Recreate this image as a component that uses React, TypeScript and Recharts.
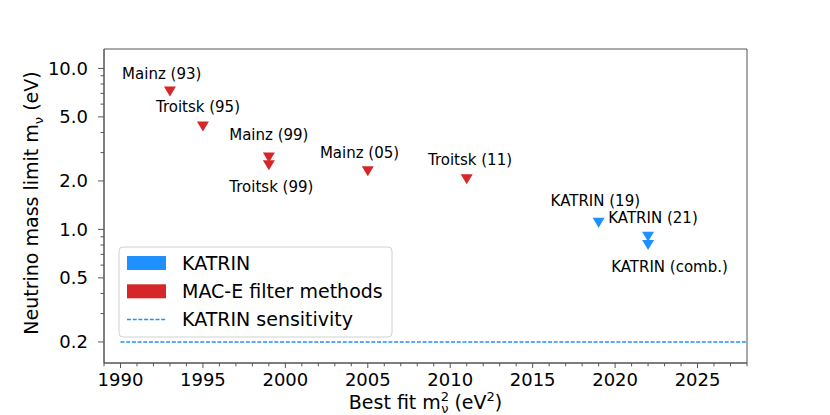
import React from "react"
import { ScatterChart, Scatter, XAxis, YAxis, ReferenceLine, ReferenceArea } from "recharts"

const FONT = "DejaVu Sans, Verdana, sans-serif"
const BLUE = "#1e90ff"
const RED = "#d62728"
const SPINE = "#555555"

// upper limits on the neutrino mass (eV), by year of result
const macE = [
  { name: "Mainz (93)", year: 1993, limit: 7.2 },
  { name: "Troitsk (95)", year: 1995, limit: 4.35 },
  { name: "Mainz (99)", year: 1999, limit: 2.8 },
  { name: "Troitsk (99)", year: 1999, limit: 2.5 },
  { name: "Mainz (05)", year: 2005, limit: 2.3 },
  { name: "Troitsk (11)", year: 2011, limit: 2.05 },
]

const katrin = [
  { name: "KATRIN (19)", year: 2019, limit: 1.1 },
  { name: "KATRIN (21)", year: 2022, limit: 0.9 },
  { name: "KATRIN (comb.)", year: 2022, limit: 0.8 },
]

// text annotations, placed in data coordinates (label centre)
const annotations = [
  { text: "Mainz (93)", year: 1992.5, limit: 9.2 },
  { text: "Troitsk (95)", year: 1994.7, limit: 5.77 },
  { text: "Mainz (99)", year: 1999.0, limit: 3.85 },
  { text: "Troitsk (99)", year: 1999.15, limit: 1.84 },
  { text: "Mainz (05)", year: 2004.5, limit: 3.01 },
  { text: "Troitsk (11)", year: 2011.2, limit: 2.69 },
  { text: "KATRIN (19)", year: 2018.8, limit: 1.5 },
  { text: "KATRIN (21)", year: 2022.3, limit: 1.18 },
  { text: "KATRIN (comb.)", year: 2023.3, limit: 0.586 },
]

const sensitivity = 0.2
const sensitivityStart = 1990

const xDomain = [1989, 2028]
const yDomain = [0.148, 13.2]

const xMajor = [1990, 1995, 2000, 2005, 2010, 2015, 2020, 2025]
const xTicks: number[] = []
for (let y = xDomain[0]; y <= xDomain[1]; y++) xTicks.push(y)

const yMajor = [0.2, 0.5, 1, 2, 5, 10]
const yMajorLabels = ["0.2", "0.5", "1.0", "2.0", "5.0", "10.0"]
const yMinor = [0.3, 0.4, 0.6, 0.7, 0.8, 0.9, 3, 4, 6, 7, 8, 9]
const yTicks = [...yMajor, ...yMinor].sort((a, b) => a - b)

const XTick = (props: any) => {
  const { x, y, payload } = props
  const major = xMajor.includes(payload.value)
  return (
    <g>
      <line x1={x} x2={x} y1={y} y2={y + (major ? 5 : 3.3)} stroke={SPINE} strokeWidth={1} />
      {major && (
        <text x={x} y={y + 17} dy="0.35em" textAnchor="middle" fontSize={18} fontFamily={FONT} fill="#000">
          {payload.value}
        </text>
      )}
    </g>
  )
}

const YTick = (props: any) => {
  const { x, y, payload } = props
  const idx = yMajor.findIndex((v) => Math.abs(v - payload.value) < 1e-9)
  const major = idx >= 0
  return (
    <g>
      <line x1={x - (major ? 6 : 3.5)} x2={x} y1={y} y2={y} stroke={SPINE} strokeWidth={1} />
      {major && (
        <text x={x - 16} y={y} dy="0.35em" textAnchor="end" fontSize={18} fontFamily={FONT} fill="#000">
          {yMajorLabels[idx]}
        </text>
      )}
    </g>
  )
}

const triangle = (color: string) => (props: any) => {
  const { cx, cy } = props
  const w = 6
  const h = 5
  return <polygon points={`${cx - w},${cy - h} ${cx + w},${cy - h} ${cx},${cy + h}`} fill={color} />
}

const annotationShape = (props: any) => {
  const { cx, cy, payload } = props
  return (
    <text x={cx} y={cy} dy="0.35em" textAnchor="middle" fontSize={15} fontFamily={FONT} fill="#000">
      {payload.text}
    </text>
  )
}

const XTitle = (props: any) => {
  const { viewBox } = props
  const cx = viewBox.x + viewBox.width / 2
  const cy = viewBox.y + 39
  return (
    <text x={cx} y={cy} dy="0.35em" textAnchor="middle" fontSize={19} fontFamily={FONT} fill="#000">
      <tspan>Best fit m</tspan>
      <tspan fontSize={13} dy={-8}>2</tspan>
      <tspan fontSize={13} dx={-8} dy={12}>ν</tspan>
      <tspan dy={-4}> (eV</tspan>
      <tspan fontSize={13} dy={-8}>2</tspan>
      <tspan dy={8}>)</tspan>
    </text>
  )
}

const YTitle = (props: any) => {
  const { viewBox } = props
  const cx = 31
  const cy = viewBox.y + viewBox.height / 2 - 3
  return (
    <text
      x={cx}
      y={cy}
      dy="0.35em"
      textAnchor="middle"
      fontSize={19}
      fontFamily={FONT}
      fill="#000"
      transform={`rotate(-90 ${cx} ${cy})`}
    >
      <tspan>Neutrino mass limit m</tspan>
      <tspan fontSize={13} dy={5}>ν</tspan>
      <tspan dy={-5}> (eV)</tspan>
    </text>
  )
}

function LegendBox() {
  const rows = [
    { label: "KATRIN", kind: "patch", color: BLUE },
    { label: "MAC-E filter methods", kind: "patch", color: RED },
    { label: "KATRIN sensitivity", kind: "line", color: BLUE },
  ]
  return (
    <svg
      width={275}
      height={92}
      style={{ position: "absolute", left: 118, top: 246, overflow: "visible" }}
    >
      <rect x={1} y={1} width={273} height={90} rx={4} fill="rgba(255,255,255,0.85)" stroke="#d0d0d0" strokeWidth={1} />
      {rows.map((r, i) => {
        const cy = 17 + i * 28.3
        return (
          <g key={r.label}>
            {r.kind === "patch" ? (
              <rect x={9} y={cy - 7} width={39} height={14} fill={r.color} />
            ) : (
              <line x1={9} x2={48} y1={cy} y2={cy} stroke={r.color} strokeWidth={1.5} strokeDasharray="4 1.7" />
            )}
            <text x={64} y={cy} dy="0.35em" fontSize={19} fontFamily={FONT} fill="#000">
              {r.label}
            </text>
          </g>
        )
      })}
    </svg>
  )
}

export default function App() {
  return (
    <div style={{ position: "absolute", left: 0, top: 0, width: 830, height: 415, background: "#fff" }}>
      <ScatterChart width={830} height={415} margin={{ top: 49, right: 83, bottom: 0, left: 0 }}>
        <XAxis
          type="number"
          dataKey="year"
          domain={xDomain}
          ticks={xTicks}
          interval={0}
          allowDataOverflow
          height={52}
          tickSize={0}
          tickMargin={0}
          tickLine={false}
          tick={<XTick />}
          axisLine={{ stroke: SPINE, strokeWidth: 1 }}
          label={<XTitle />}
        />
        <YAxis
          type="number"
          dataKey="limit"
          scale="log"
          domain={yDomain}
          ticks={yTicks}
          interval={0}
          allowDataOverflow
          width={104}
          tickSize={0}
          tickMargin={0}
          tickLine={false}
          tick={<YTick />}
          axisLine={{ stroke: SPINE, strokeWidth: 1 }}
          label={<YTitle />}
        />
        {/* frame around the plotting area */}
        <ReferenceArea
          x1={xDomain[0]}
          x2={xDomain[1]}
          y1={yDomain[0]}
          y2={yDomain[1]}
          fill="none"
          stroke={SPINE}
          strokeWidth={1}
          ifOverflow="visible"
        />
        <ReferenceLine
          segment={[
            { x: sensitivityStart, y: sensitivity },
            { x: xDomain[1], y: sensitivity },
          ]}
          stroke={BLUE}
          strokeWidth={1.5}
          strokeDasharray="4 1.7"
        />
        <Scatter name="MAC-E filter methods" data={macE} shape={triangle(RED)} isAnimationActive={false} />
        <Scatter name="KATRIN" data={katrin} shape={triangle(BLUE)} isAnimationActive={false} />
        <Scatter
          name="labels"
          data={annotations}
          dataKey="limit"
          shape={annotationShape}
          isAnimationActive={false}
        />
      </ScatterChart>
      <LegendBox />
    </div>
  )
}
